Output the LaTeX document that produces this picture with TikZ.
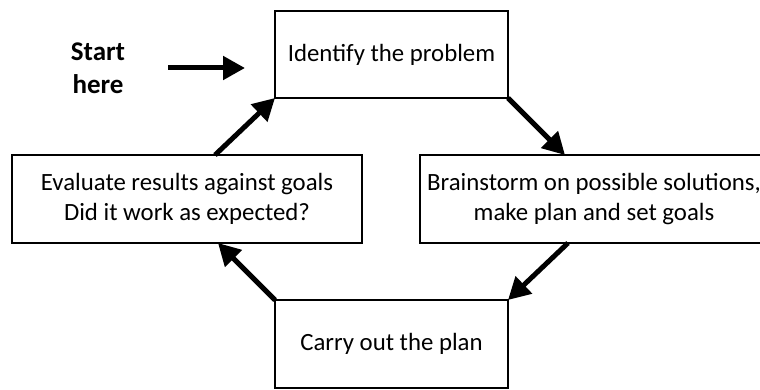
\documentclass[tikz,border=0pt]{standalone}
\usepackage{fontspec}
\setmainfont{Carlito}
\usepackage{tikz}
\usetikzlibrary{arrows.meta,positioning}

\tikzset{
  stage/.style={draw, line width=2.5pt, rectangle, inner sep=0pt, outer sep=0pt,
    minimum width=233pt, minimum height=88pt, align=center,
    font=\fontsize{24.8}{30}\selectfont},
  widestage/.style={stage, minimum width=350pt},
  flow/.style={line width=5pt, -{Triangle[length=22pt,width=23pt]}}
}

\begin{document}
\begin{tikzpicture}[x=1pt,y=-1pt]
			 \clip (0,0) rectangle (760,390);
			 \node[stage, minimum height=87pt] (identify) at (391.5,54.5) {Identify the problem};
			 \node[widestage] (evaluate) at (187,199) {Evaluate results against goals\\Did it work as expected?};
			 \node[widestage, minimum width=348pt] (brainstorm) at (594,199) {Brainstorm on possible solutions,\\make plan and set goals};
			 \node[stage] (carry) [below=202pt of identify] {Carry out the plan};
			 \node[align=center, font=\fontsize{27}{33}\selectfont\bfseries] (start) at (98,68) {Start\\here};
			 \coordinate (tail) at (168,68);
			 \coordinate (tip) at (245,68);
			 \draw[flow] (tail) -- (tip);
			 \draw[flow] ([xshift=28pt]evaluate.north) -- (identify.south west);
			 \draw[flow] (identify.south east) -- ([xshift=-29pt]brainstorm.north);
			 \draw[flow] ([xshift=-26pt]brainstorm.south) -- (carry.north east);
			 \draw[flow] (carry.north west) -- ([xshift=31pt]evaluate.south);
			\end{tikzpicture}
\end{document}
